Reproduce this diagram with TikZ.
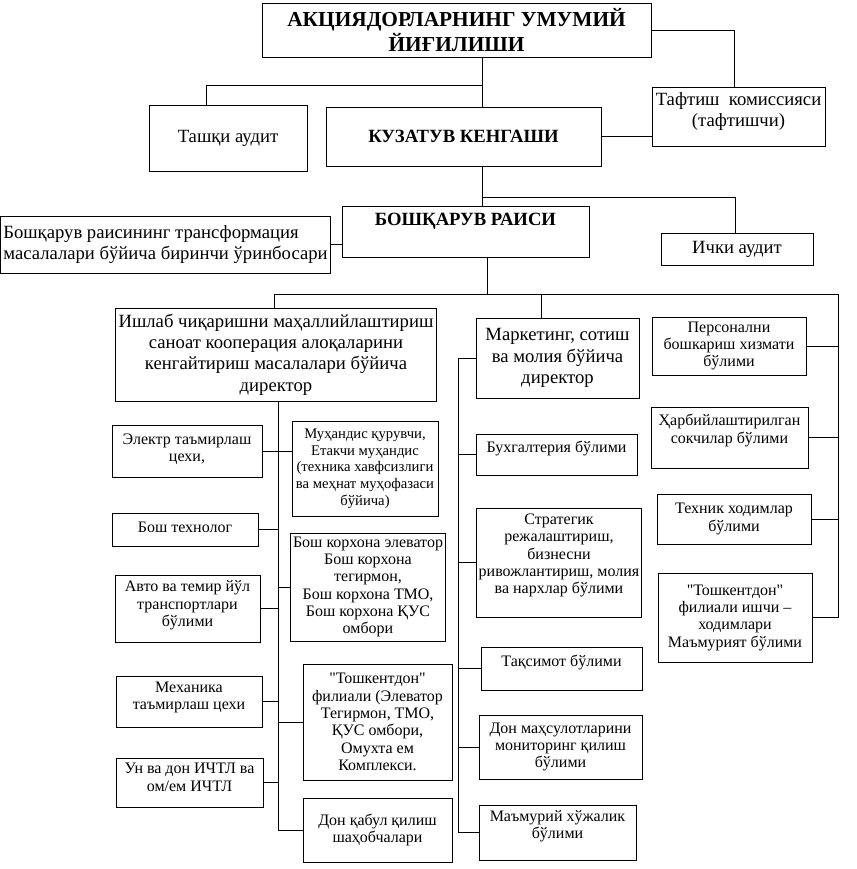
\documentclass[tikz,border=0pt]{standalone}
\usepackage{fontspec}
\setmainfont{Liberation Serif}

\tikzset{
  box/.style={draw, line width=0.7pt, align=center, inner sep=2pt, fill=white},
  sz/.style 2 args={minimum width=#1*0.75pt, minimum height=#2*0.75pt},
  lift/.style={text depth=#1},
  big/.style={font=\fontsize{16}{18.5}\selectfont\bfseries},
  hd/.style={font=\fontsize{14}{18}\selectfont\bfseries},
  mid/.style={font=\fontsize{14}{16}\selectfont},
  sml/.style={font=\fontsize{12}{13}\selectfont},
  tny/.style={font=\fontsize{11}{12.5}\selectfont},
}

\begin{document}
\begin{tikzpicture}[x=0.75pt, y=-0.75pt, line width=0.7pt]
    \useasboundingbox (0,0) rectangle (857,869);

    % top levels
    \node[box,big,sz={389}{54}] (title) at (456.5,30) {АКЦИЯДОРЛАРНИНГ УМУМИЙ\\ЙИҒИЛИШИ};
    \node[box,mid,sz={158}{66}] (tashki) at (228,138) {Ташқи аудит};
    \node[box,hd,sz={275}{59}] (kuzatuv) at (463.5,136.5) {КУЗАТУВ КЕНГАШИ};
    \node[box,mid,sz={173}{59},lift=10pt] (taftish) at (738.5,116.5) {Тафтиш\ \ комиссияси\\(тафтишчи)};
    \node[box,hd,sz={247}{51}] (raisi) at (465.5,231.5) {БОШҚАРУВ РАИСИ\\~};
    \node[box,mid,sz={325}{57},align=left] (orinbosar) at (165.5,244.5) {Бошқарув раисининг трансформация\\масалалари бўйича биринчи ўринбосари};
    \node[box,mid,sz={152}{32}] (ichki) at (737,249) {Ички аудит};

    % directors
    \node[box,mid,sz={318}{93}] (ishlab) at (276,354.5) {Ишлаб чиқаришни маҳаллийлаштириш\\саноат кооперация алоқаларини\\кенгайтириш масалалари бўйича\\директор};
    \node[box,mid,sz={163}{80}] (marketing) at (557.5,358) {Маркетинг, сотиш\\ва молия бўйича\\директор};

    % right column
    \node[box,sml,sz={154}{58}] (personal) at (729,346) {Персонални\\бошкариш хизмати\\бўлими};
    \node[box,sml,sz={157}{61}] (harbiy) at (729.5,437.5) {Ҳарбийлаштирилган\\сокчилар бўлими\\~};
    \node[box,sml,sz={154}{50}] (texnik) at (734,519) {Техник ходимлар\\бўлими};
    \node[box,sml,sz={154}{89}] (filial2) at (735,617.5) {\textquotedbl Тошкентдон\textquotedbl\\филиали ишчи –\\ходимлари\\Маъмурият бўлими};

    % marketing column
    \node[box,sml,sz={161}{41},lift=12pt] (buxg) at (556.5,454.5) {Бухгалтерия бўлими};
    \node[box,sml,sz={162}{109},lift=13pt] (strat) at (559,562.5) {Стратегик\\режалаштириш,\\бизнесни\\ривожлантириш, молия\\ва нархлар бўлими};
    \node[box,sml,sz={161}{43},lift=12pt] (taqsimot) at (561.5,668.5) {Тақсимот бўлими};
    \node[box,sml,sz={163}{64}] (monitor) at (560.5,747) {Дон маҳсулотларини\\мониторинг қилиш\\бўлими};
    \node[box,sml,sz={157}{55},lift=12pt] (mamuriy) at (557.5,832.5) {Маъмурий хўжалик\\бўлими};

    % production column
    \node[box,sml,sz={150}{52},lift=5pt] (elektr) at (187,451) {Электр таъмирлаш\\цехи,};
    \node[box,tny,sz={146}{95}] (muhandis) at (365,468.5) {Муҳандис қурувчи,\\Етакчи муҳандис\\(техника хавфсизлиги\\ва меҳнат муҳофазаси\\бўйича)};
    \node[box,sml,sz={146}{33},lift=4pt] (boshtex) at (185,529.5) {Бош технолог};
    \node[box,sml,sz={152}{108}] (boshkor) at (368,587) {Бош корхона элеватор\\Бош корхона\\тегирмон,\\Бош корхона ТМО,\\Бош корхона ҚУС\\омбори};
    \node[box,sml,sz={145}{67},lift=7pt] (avto) at (187.5,608.5) {Авто ва темир йўл\\транспортлари\\бўлими};
    \node[box,sml,sz={146}{51},lift=9pt] (mexanika) at (189,701.5) {Механика\\таъмирлаш цехи};
    \node[box,sml,sz={149}{116}] (filial1) at (377.5,722) {\textquotedbl Тошкентдон\textquotedbl\\филиали (Элеватор\\Тегирмон, ТМО,\\ҚУС омбори,\\Омухта ем\\Комплекси.};
    \node[box,sml,sz={147}{49},lift=8pt] (unva) at (189.5,782.5) {Ун ва дон ИЧТЛ ва\\ом/ем ИЧТЛ};
    \node[box,sml,sz={149}{64}] (donqabul) at (377.5,830) {Дон қабул қилиш\\шаҳобчалари};

    % junctions
    \coordinate (j1) at (482,85);
    \coordinate (j2) at (206,85);
    \coordinate (j3) at (734,30);
    \coordinate (j4) at (482,197);
    \coordinate (j5) at (735,197);
    \coordinate (j6) at (487,294);
    \coordinate (j7) at (274,294);
    \coordinate (j8) at (838,294);
    \coordinate (j9) at (541,294);
    \coordinate (s1) at (278,0);
    \coordinate (s2) at (458,0);

    \draw (j1 |- title.south) -- (j1 |- kuzatuv.north);
    \draw (j1) -- (j2) -- (j2 |- tashki.north);
    \draw (title.east |- j3) -- (j3) -- (j3 |- taftish.north);
    \draw (kuzatuv.east) -- (kuzatuv.east -| taftish.west);
    \draw (j4 |- kuzatuv.south) -- (j4 |- raisi.north);
    \draw (j4) -- (j5) -- (j5 |- ichki.north);
    \draw (orinbosar.east) -- (orinbosar.east -| raisi.west);
    \draw (j6 |- raisi.south) -- (j6);
    \draw (j7 |- ishlab.north) -- (j7) -- (j8) -- (j8 |- filial2.east) -- (filial2.east);
    \draw (j9) -- (j9 |- marketing.north);

    \draw (personal.east) -- (personal.east -| j8);
    \draw (harbiy.east) -- (harbiy.east -| j8);
    \draw (texnik.east) -- (texnik.east -| j8);

    \draw (marketing.west) -- (marketing.west -| s2) -- (s2 |- mamuriy.west) -- (mamuriy.west);
    \draw (buxg.west) -- (buxg.west -| s2);
    \draw (strat.west) -- (strat.west -| s2);
    \draw (taqsimot.west) -- (taqsimot.west -| s2);
    \draw (monitor.west) -- (monitor.west -| s2);

    \draw (s1 |- ishlab.south) -- (s1 |- donqabul.west) -- (donqabul.west);
    \draw (elektr.east) -- (elektr.east -| muhandis.west);
    \draw (boshtex.east) -- (boshtex.east -| s1);
    \draw (boshkor.west) -- (boshkor.west -| s1);
    \draw (avto.east) -- (avto.east -| s1);
    \draw (mexanika.east) -- (mexanika.east -| s1);
    \draw (filial1.west) -- (filial1.west -| s1);
    \draw (unva.east) -- (unva.east -| s1);
\end{tikzpicture}
\end{document}
